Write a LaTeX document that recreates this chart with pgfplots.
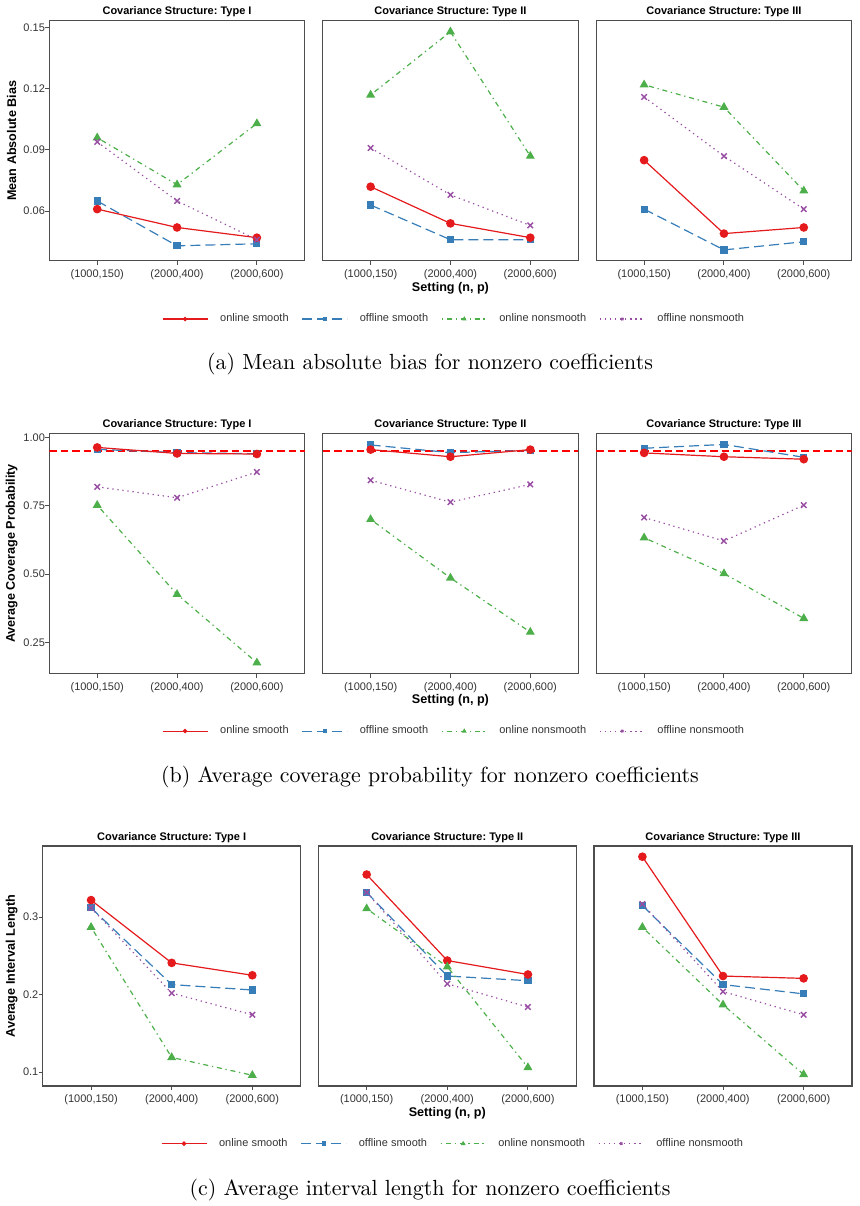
\documentclass[border=0pt]{standalone}
\usepackage{fontspec}
\usepackage{pgfplots}
\usepackage{pgfplotstable}
\pgfplotsset{compat=1.18}
\newfontfamily\arial{Liberation Sans}
\definecolor{cred}{HTML}{E41A1C}
\definecolor{cblue}{HTML}{377EB8}
\definecolor{cgreen}{HTML}{4DAF4A}
\definecolor{cpurple}{HTML}{984EA3}
\definecolor{framegray}{HTML}{4D4D4D}
\definecolor{ticktext}{HTML}{333333}

% ---------------- data ----------------
\pgfplotstableread{
x s1 s2 s3 s4
0 0.061 0.065 0.096 0.094
1 0.052 0.043 0.073 0.065
2 0.047 0.044 0.103 0.046
}\aI
\pgfplotstableread{
x s1 s2 s3 s4
0 0.072 0.063 0.117 0.091
1 0.054 0.046 0.148 0.068
2 0.047 0.046 0.087 0.053
}\aII
\pgfplotstableread{
x s1 s2 s3 s4
0 0.085 0.061 0.122 0.116
1 0.049 0.041 0.111 0.087
2 0.052 0.045 0.070 0.061
}\aIII
\pgfplotstableread{
x s1 s2 s3 s4
0 0.963 0.956 0.752 0.819
1 0.941 0.944 0.426 0.779
2 0.939 0.940 0.176 0.873
}\bI
\pgfplotstableread{
x s1 s2 s3 s4
0 0.955 0.972 0.700 0.843
1 0.929 0.944 0.486 0.763
2 0.955 0.952 0.288 0.828
}\bII
\pgfplotstableread{
x s1 s2 s3 s4
0 0.943 0.960 0.633 0.707
1 0.929 0.974 0.502 0.621
2 0.920 0.927 0.338 0.752
}\bIII
\pgfplotstableread{
x s1 s2 s3 s4
0 0.322 0.312 0.287 0.312
1 0.241 0.213 0.119 0.202
2 0.225 0.206 0.096 0.174
}\cI
\pgfplotstableread{
x s1 s2 s3 s4
0 0.355 0.332 0.311 0.332
1 0.244 0.224 0.236 0.214
2 0.226 0.218 0.106 0.184
}\cII
\pgfplotstableread{
x s1 s2 s3 s4
0 0.378 0.315 0.287 0.317
1 0.224 0.213 0.187 0.204
2 0.221 0.201 0.097 0.174
}\cIII

\pgfplotsset{
  every axis title/.style={at={(0.5,1)}, anchor=base, yshift=3pt, inner sep=0pt,
    font=\arial\bfseries\fontsize{5.5}{6.6}\selectfont},
  panel/.style={
    scale only axis, width=127.75pt, height=120pt,
    xmin=-0.6, xmax=2.6,
    xtick={0,1,2}, xticklabels={(1000,150),(2000,400),(2000,600)},
    tick align=outside, tick pos=left, major tick length=2pt,
    tick style={framegray, line width=0.5pt},
    axis line style={framegray, line width=0.55pt},
    ticklabel style={font=\arial\fontsize{5.5}{6.6}\selectfont, text=ticktext},
    xticklabel style={anchor=base, yshift=-6.25pt},
    yticklabel style={anchor=east, inner sep=0pt, xshift=0pt},
    label style={font=\arial\bfseries\fontsize{6.3}{7.5}\selectfont},
    xlabel style={at={(axis description cs:0.5,0)}, anchor=base, yshift=-15.2pt, inner sep=0pt},
    legend image code/.code={\draw[mark repeat=2,mark phase=2,##1,mark size=0.8pt] plot coordinates {(0pt,0pt)(11.25pt,0pt)(22.5pt,0pt)};},
    legend style={draw=none, fill=none, inner sep=0pt, legend columns=4,
      font=\arial\fontsize{5.5}{6.6}\selectfont, text=ticktext,
      nodes={inner sep=0pt},
      /tikz/every odd column/.append style={column sep=6pt},
      /tikz/every even column/.append style={column sep=6.5pt}},
  },
  panelc/.style={panel, width=129pt},
  noy/.style={ytick=\empty},
  s1/.style={cred, line width=0.6pt, mark=*, mark size=1.85pt, mark options={solid}},
  s2/.style={cblue, line width=0.6pt, dash pattern=on 5pt off 2.5pt, mark=square*, mark size=1.5pt, mark options={solid}},
  s3/.style={cgreen, line width=0.6pt, dash pattern=on 0.64pt off 1.9pt on 2.5pt off 1.9pt, mark=triangle*, mark size=2pt, mark options={solid}},
  s4/.style={cpurple, line width=0.6pt, dash pattern=on 0.64pt off 1.9pt, mark=x, mark size=1.95pt, mark options={solid, line width=0.7pt}},
}
\newcommand\series[1]{%
  \addplot[s2] table[x=x,y=s2]{#1};
  \addplot[s1] table[x=x,y=s1]{#1};
  \addplot[s3] table[x=x,y=s3]{#1};
  \addplot[s4] table[x=x,y=s4]{#1};
}
\newcommand\legendfour{%
  \addlegendimage{s1}\addlegendentry{online smooth}
  \addlegendimage{s2}\addlegendentry{offline smooth}
  \addlegendimage{s3}\addlegendentry{online nonsmooth}
  \addlegendimage{s4}\addlegendentry{offline nonsmooth}
}
\newcommand\refline{\addplot[forget plot, red, line width=0.8pt, dash pattern=on 3.7pt off 2pt] coordinates {(-0.6,0.95) (2.6,0.95)};}

\begin{document}
\frenchspacing
\begin{tikzpicture}
\useasboundingbox (0,0) rectangle (429.5pt,-603pt);

% ---------------- row a ----------------
\begin{axis}[panel, at={(24.65pt,-10.35pt)}, anchor=north west,
  ymin=0.0357, ymax=0.1534, ytick={0.06,0.09,0.12,0.15}, yticklabels={0.06,0.09,0.12,0.15},
  title={Covariance Structure: Type I}, ylabel={Mean Absolute Bias},
  ylabel style={at={(axis description cs:-0.147,0.5)}, anchor=center}]
\series{\aI}
\end{axis}
\begin{axis}[panel, noy, at={(161.35pt,-10.35pt)}, anchor=north west,
  ymin=0.0357, ymax=0.1534,
  title={Covariance Structure: Type II}, xlabel={Setting (n, p)},
  legend style={at={(axis description cs:0.51,-0.243)}, anchor=center}]
\legendfour
\series{\aII}
\end{axis}
\begin{axis}[panel, noy, at={(298.1pt,-10.35pt)}, anchor=north west,
  ymin=0.0357, ymax=0.1534,
  title={Covariance Structure: Type III}]
\series{\aIII}
\end{axis}

% ---------------- row b ----------------
\begin{axis}[panel, at={(24.65pt,-216.75pt)}, anchor=north west,
  ymin=0.1366, ymax=1.0139, ytick={0.25,0.5,0.75,1}, yticklabels={0.25,0.50,0.75,1.00},
  title={Covariance Structure: Type I}, ylabel={Average Coverage Probability},
  ylabel style={at={(axis description cs:-0.147,0.5)}, anchor=center}]
\refline
\series{\bI}
\end{axis}
\begin{axis}[panel, noy, at={(161.35pt,-216.75pt)}, anchor=north west,
  ymin=0.1366, ymax=1.0139,
  title={Covariance Structure: Type II}, xlabel={Setting (n, p)},
  legend style={at={(axis description cs:0.51,-0.240)}, anchor=center}]
\legendfour
\refline
\series{\bII}
\end{axis}
\begin{axis}[panel, noy, at={(298.1pt,-216.75pt)}, anchor=north west,
  ymin=0.1366, ymax=1.0139,
  title={Covariance Structure: Type III}]
\refline
\series{\bIII}
\end{axis}

% ---------------- row c ----------------
\begin{axis}[panelc, at={(21.35pt,-423pt)}, anchor=north west,
  ymin=0.0821, ymax=0.3918, ytick={0.1,0.2,0.3}, yticklabels={0.1,0.2,0.3},
  title={Covariance Structure: Type I}, ylabel={Average Interval Length},
  ylabel style={at={(axis description cs:-0.120,0.5)}, anchor=center}]
\series{\cI}
\end{axis}
\begin{axis}[panelc, noy, at={(159.15pt,-423pt)}, anchor=north west,
  ymin=0.0821, ymax=0.3918,
  title={Covariance Structure: Type II}, xlabel={Setting (n, p)},
  legend style={at={(axis description cs:0.518,-0.240)}, anchor=center}]
\legendfour
\series{\cII}
\end{axis}
\begin{axis}[panelc, noy, at={(297pt,-423pt)}, anchor=north west,
  ymin=0.0821, ymax=0.3918,
  title={Covariance Structure: Type III}]
\series{\cIII}
\end{axis}

% ---------------- captions ----------------
\node[anchor=base, font=\fontsize{10.95}{13}\selectfont, inner sep=0pt] at (215pt,-184.85pt) {(a) Mean absolute bias for nonzero coefficients};
\node[anchor=base, font=\fontsize{10.95}{13}\selectfont, inner sep=0pt] at (215pt,-391.35pt) {(b) Average coverage probability for nonzero coefficients};
\node[anchor=base, font=\fontsize{10.95}{13}\selectfont, inner sep=0pt] at (215pt,-597.6pt) {(c) Average interval length for nonzero coefficients};
\end{tikzpicture}
\end{document}
